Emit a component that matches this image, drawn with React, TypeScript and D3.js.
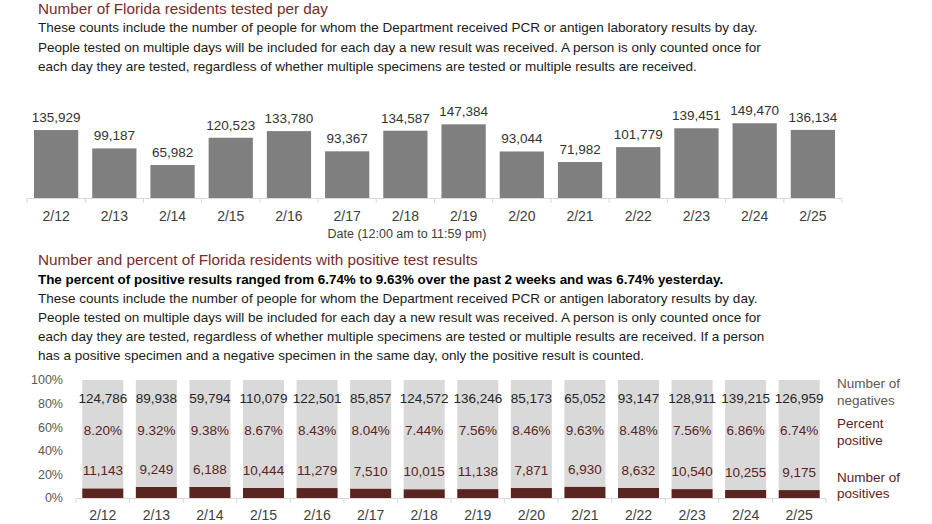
import React from "react";
import * as d3 from "d3";

const dates = ["2/12","2/13","2/14","2/15","2/16","2/17","2/18","2/19","2/20","2/21","2/22","2/23","2/24","2/25"];
const tested = [135929,99187,65982,120523,133780,93367,134587,147384,93044,71982,101779,139451,149470,136134];
const negatives = [124786,89938,59794,110079,122501,85857,124572,136246,85173,65052,93147,128911,139215,126959];
const positives = [11143,9249,6188,10444,11279,7510,10015,11138,7871,6930,8632,10540,10255,9175];
const percentPositive = ["8.20%","9.32%","9.38%","8.67%","8.43%","8.04%","7.44%","7.56%","8.46%","9.63%","8.48%","7.56%","6.86%","6.74%"];
const pctTicks = [0, 0.2, 0.4, 0.6, 0.8, 1];

const title1 = "Number of Florida residents tested per day";
const body1 = [
  "These counts include the number of people for whom the Department received PCR or antigen laboratory results by day.",
  "People tested on multiple days will be included for each day a new result was received. A person is only counted once for",
  "each day they are tested, regardless of whether multiple specimens are tested or multiple results are received.",
];
const title2 = "Number and percent of Florida residents with positive test results";
const bold2 = "The percent of positive results ranged from 6.74% to 9.63% over the past 2 weeks and was 6.74% yesterday.";
const body2 = [
  "These counts include the number of people for whom the Department received PCR or antigen laboratory results by day.",
  "People tested on multiple days will be included for each day a new result was received. A person is only counted once for",
  "each day they are tested, regardless of whether multiple specimens are tested or multiple results are received. If a person",
  "has a positive specimen and a negative specimen in the same day, only the positive result is counted.",
];
const axisTitle = "Date (12:00 am to 11:59 pm)";

const FONT = "'Liberation Sans', Arial, sans-serif";
const MAROON = "#7b2b2b";
const DARK = "#5a2421";
const fmt = d3.format(",");

export default function App() {
  // top chart
  const x1 = d3.scaleBand<string>().domain(dates).range([27, 842]).paddingInner(0.24).paddingOuter(0.12);
  const y1 = d3.scaleLinear().domain([0, 160000]).range([198, 118]);
  const step1 = x1.step();
  const left1 = 27;

  // bottom chart
  const x2 = d3.scaleBand<string>().domain(dates).range([76, 826]).paddingInner(0.234).paddingOuter(0.117);
  const y2 = d3.scaleLinear().domain([0, 1]).range([498, 380]);
  const step2 = x2.step();
  const rows = dates.map((d, i) => ({ date: d, pos: positives[i], neg: negatives[i] }));
  const stacked = d3.stack<any>().keys(["pos", "neg"]).offset(d3.stackOffsetExpand)(rows);

  return (
    <svg width={932} height={524} style={{ position: "absolute", left: 0, top: 0, display: "block", background: "#fff" }} fontFamily={FONT}>
      <text x={38} y={14} fontSize={15.3} fill={MAROON}>{title1}</text>
      {body1.map((t, i) => (
        <text key={i} x={38} y={32 + i * 19.5} fontSize={13.5} fill="#1a1a1a">{t}</text>
      ))}

      {/* top chart */}
      {dates.map((d, i) => (
        <g key={d}>
          <rect x={x1(d)} y={y1(tested[i])} width={x1.bandwidth()} height={y1(0) - y1(tested[i])} fill="#7f7f7f" />
          <text x={x1(d)! + x1.bandwidth() / 2} y={y1(tested[i]) - 8} textAnchor="middle" fontSize={13.5} fill="#333">{fmt(tested[i])}</text>
          <text x={x1(d)! + x1.bandwidth() / 2} y={221} textAnchor="middle" fontSize={14} fill="#404040">{d}</text>
        </g>
      ))}
      <line x1={left1} x2={842} y1={198.5} y2={198.5} stroke="#d9d9d9" />
      {d3.range(dates.length + 1).map((i) => (
        <line key={i} x1={left1 + i * step1} x2={left1 + i * step1} y1={198.5} y2={203} stroke="#d9d9d9" />
      ))}
      <text x={407} y={238} textAnchor="middle" fontSize={12.5} fill="#404040">{axisTitle}</text>

      {/* bottom text */}
      <text x={38} y={265} fontSize={15.3} fill={MAROON}>{title2}</text>
      <text x={38} y={284} fontSize={13.4} fontWeight="bold" fill="#000">{bold2}</text>
      {body2.map((t, i) => (
        <text key={i} x={38} y={302.5 + i * 19} fontSize={13.5} fill="#1a1a1a">{t}</text>
      ))}

      {/* bottom chart */}
      {pctTicks.map((t) => (
        <text key={t} x={63} y={y2(t)} dy="0.35em" textAnchor="end" fontSize={12.5} fill="#595959">{d3.format(".0%")(t)}</text>
      ))}
      {stacked.map((s) => (
        <g key={s.key}>
          {s.map((p: any, i: number) => (
            <rect key={i} x={x2(dates[i])} y={y2(p[1])} width={x2.bandwidth()} height={y2(p[0]) - y2(p[1])} fill={s.key === "pos" ? DARK : "#d9d9d9"} />
          ))}
        </g>
      ))}
      {dates.map((d, i) => {
        const cx = x2(d)! + x2.bandwidth() / 2;
        const top = y2(stacked[0][i][1]);
        return (
          <g key={d}>
            <text x={cx} y={403} textAnchor="middle" fontSize={13.5} fill="#262626">{fmt(negatives[i])}</text>
            <text x={cx} y={434.5} textAnchor="middle" fontSize={13.5} fill={DARK}>{percentPositive[i]}</text>
            <text x={cx} y={top - 13} textAnchor="middle" fontSize={13.5} fill={DARK}>{fmt(positives[i])}</text>
            <text x={cx} y={520} textAnchor="middle" fontSize={14} fill="#404040">{d}</text>
          </g>
        );
      })}
      <line x1={76} x2={826} y1={498.5} y2={498.5} stroke="#d9d9d9" />
      {d3.range(dates.length + 1).map((i) => (
        <line key={i} x1={76 + i * step2} x2={76 + i * step2} y1={498.5} y2={503} stroke="#d9d9d9" />
      ))}

      {/* legend */}
      <text x={837} y={388} fontSize={13.5} fill="#595959">Number of</text>
      <text x={837} y={405} fontSize={13.5} fill="#595959">negatives</text>
      <text x={837} y={428} fontSize={13.5} fill={DARK}>Percent</text>
      <text x={837} y={445} fontSize={13.5} fill={DARK}>positive</text>
      <text x={837} y={482} fontSize={13.5} fill={DARK}>Number of</text>
      <text x={837} y={498} fontSize={13.5} fill={DARK}>positives</text>
    </svg>
  );
}
